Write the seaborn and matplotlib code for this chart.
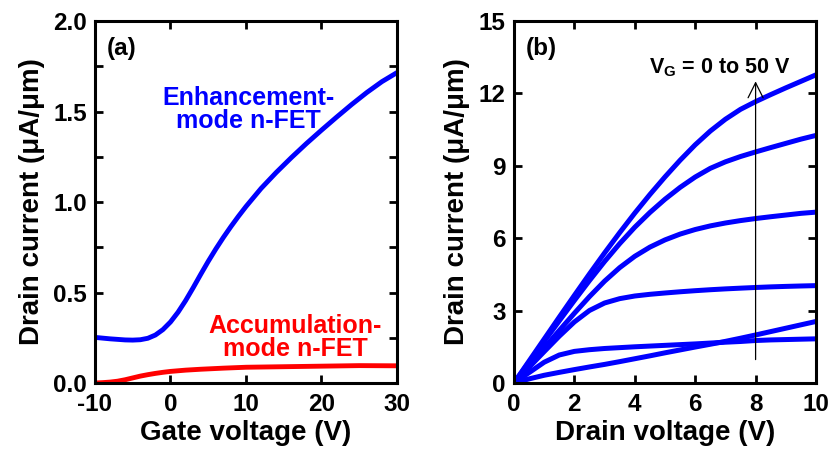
import numpy as np
import pandas as pd
import matplotlib
matplotlib.use("Agg")
import matplotlib.pyplot as plt
from matplotlib.ticker import MultipleLocator, FormatStrFormatter
import seaborn as sns

# ---- (a) transfer characteristics ----
gate_v = [-10, -9, -8, -7, -6, -5, -4, -3, -2, -1, 0, 1, 2, 3, 4, 5, 6, 7, 8, 9,
          10, 12, 14, 16, 18, 20, 22, 24, 26, 28, 30]
enh_current = [0.252, 0.248, 0.244, 0.241, 0.238, 0.237, 0.239, 0.247, 0.265,
               0.295, 0.337, 0.391, 0.455, 0.526, 0.600, 0.672, 0.740, 0.804,
               0.864, 0.921, 0.975, 1.075, 1.163, 1.245, 1.323, 1.397, 1.469,
               1.539, 1.605, 1.665, 1.715]

acc_gate_v = [-10, -9, -8, -7, -6, -5, -4, -3, -2, -1, 0, 2, 4, 7, 10, 15, 20, 25, 30]
acc_current = [0.000, 0.002, 0.005, 0.010, 0.018, 0.028, 0.038, 0.046, 0.053,
               0.059, 0.064, 0.071, 0.076, 0.082, 0.087, 0.090, 0.093, 0.096, 0.095]

# ---- (b) output characteristics ----
drain_v = [0, 0.5, 1, 1.5, 2, 2.5, 3, 3.5, 4, 4.5, 5,
           5.5, 6, 6.5, 7, 7.5, 8, 8.5, 9, 9.5, 10]
gate_steps = [0, 10, 20, 30, 40, 50]
id_vg0 = [0, 0.17, 0.32, 0.44, 0.555, 0.665, 0.77, 0.885, 1.005, 1.125, 1.25,
          1.37, 1.49, 1.605, 1.725, 1.855, 1.99, 2.13, 2.27, 2.41, 2.55]
id_vg10 = [0, 0.43, 0.86, 1.16, 1.31, 1.38, 1.43, 1.465, 1.50, 1.53, 1.56,
           1.59, 1.62, 1.655, 1.69, 1.72, 1.76, 1.785, 1.80, 1.815, 1.83]
id_vg20 = [0, 0.65, 1.30, 1.94, 2.53, 3.005, 3.315, 3.495, 3.605, 3.675, 3.73,
           3.78, 3.825, 3.865, 3.90, 3.93, 3.958, 3.983, 4.003, 4.02, 4.035]
id_vg30 = [0, 0.725, 1.45, 2.175, 2.89, 3.58, 4.22, 4.78, 5.25, 5.63, 5.93,
           6.17, 6.36, 6.51, 6.63, 6.73, 6.815, 6.89, 6.96, 7.03, 7.08]
id_vg40 = [0, 0.86, 1.72, 2.575, 3.42, 4.245, 5.035, 5.775, 6.455, 7.065, 7.615,
           8.105, 8.535, 8.895, 9.165, 9.385, 9.575, 9.755, 9.93, 10.105, 10.26]
id_vg50 = [0, 0.91, 1.82, 2.73, 3.63, 4.52, 5.39, 6.23, 7.04, 7.81, 8.54,
           9.23, 9.87, 10.44, 10.93, 11.34, 11.66, 11.95, 12.23, 12.50, 12.77]
output_curves = [id_vg0, id_vg10, id_vg20, id_vg30, id_vg40, id_vg50]

sns.set_theme(style="ticks")
plt.rcParams.update({
    "font.family": ["Liberation Sans", "DejaVu Sans"],
    "font.weight": "bold",
    "axes.labelweight": "bold",
    "text.color": "black",
    "axes.labelcolor": "black",
    "xtick.color": "black",
    "ytick.color": "black",
    "axes.unicode_minus": False,
    "mathtext.fontset": "custom",
    "mathtext.rm": "Liberation Sans:bold",
    "mathtext.bf": "Liberation Sans:bold",
    "mathtext.it": "Liberation Sans:bold",
    "axes.linewidth": 2.2,
    "axes.edgecolor": "black",
})

BLUE = "#0000ff"
RED = "#ff0000"
TICK_FS = 17.5
LABEL_FS = 20

fig = plt.figure(figsize=(8.33, 4.54), dpi=100)
ax_a = fig.add_axes([0.114, 0.1564, 0.3626, 0.7973])
ax_b = fig.add_axes([0.617, 0.1564, 0.3626, 0.7973])


def style_axes(ax):
    ax.tick_params(which="both", direction="in", top=True, right=True,
                   length=6, width=2, color="black")
    ax.tick_params(axis="y", which="major", labelsize=TICK_FS, pad=6)
    ax.tick_params(axis="x", which="major", labelsize=TICK_FS, pad=7)
    for lab in ax.get_xticklabels() + ax.get_yticklabels():
        lab.set_fontweight("bold")
    for sp in ax.spines.values():
        sp.set_linewidth(2.2)
        sp.set_color("black")


# panel (a)
sns.lineplot(x=gate_v, y=enh_current, ax=ax_a, color=BLUE, lw=3.5)
sns.lineplot(x=acc_gate_v, y=acc_current, ax=ax_a, color=RED, lw=3.5)
ax_a.set_xlim(-10, 30)
ax_a.set_ylim(0, 2.0)
ax_a.xaxis.set_major_locator(MultipleLocator(10))
ax_a.yaxis.set_major_locator(MultipleLocator(0.5))
ax_a.yaxis.set_minor_locator(MultipleLocator(0.25))
ax_a.yaxis.set_major_formatter(FormatStrFormatter("%.1f"))
style_axes(ax_a)
ax_a.set_xlabel("Gate voltage (V)", fontsize=LABEL_FS, fontweight="bold", labelpad=3)
ax_a.set_ylabel("Drain current (\u03bcA/\u03bcm)", fontsize=LABEL_FS,
                fontweight="bold", labelpad=6)
ax_a.text(0.04, 0.955, "(a)", transform=ax_a.transAxes, ha="left", va="top",
          fontsize=17.5, fontweight="bold")
ax_a.text(10.3, 1.51, "Enhancement-\nmode n-FET", color=BLUE, ha="center",
          va="center", fontsize=18, fontweight="bold", linespacing=0.95)
ax_a.text(16.5, 0.25, "Accumulation-\nmode n-FET", color=RED, ha="center",
          va="center", fontsize=18, fontweight="bold", linespacing=0.95)

# panel (b)
for vg, current in zip(gate_steps, output_curves):
    sns.lineplot(x=drain_v, y=current, ax=ax_b, color=BLUE, lw=3.6)
ax_b.set_xlim(0, 10)
ax_b.set_ylim(0, 15)
ax_b.xaxis.set_major_locator(MultipleLocator(2))
ax_b.yaxis.set_major_locator(MultipleLocator(3))
style_axes(ax_b)
ax_b.set_xlabel("Drain voltage (V)", fontsize=LABEL_FS, fontweight="bold", labelpad=3)
ax_b.set_ylabel("Drain current (\u03bcA/\u03bcm)", fontsize=LABEL_FS,
                fontweight="bold", labelpad=6)
ax_b.text(0.04, 0.955, "(b)", transform=ax_b.transAxes, ha="left", va="top",
          fontsize=17.5, fontweight="bold")
ax_b.annotate("", xy=(8, 12.5), xytext=(8, 0.97),
              arrowprops=dict(arrowstyle="->,head_length=0.9,head_width=0.45",
                              lw=0.9, color="black", shrinkA=0, shrinkB=0,
                              mutation_scale=12))
ax_b.text(6.8, 12.85, r"V$_\mathregular{G}$ = 0 to 50 V", ha="center",
          va="baseline", fontsize=15.5, fontweight="bold")

fig.savefig("out.png", dpi=100)
